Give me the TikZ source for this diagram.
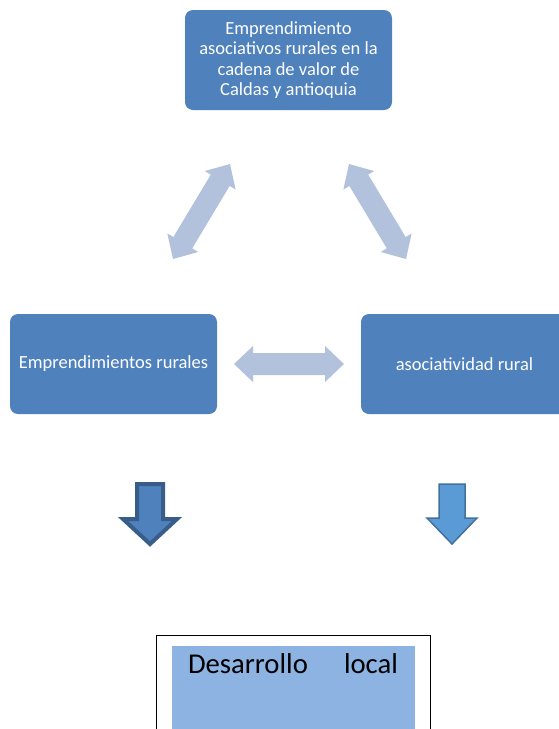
\documentclass[tikz,border=0pt]{standalone}
\usepackage{fontspec}
\setmainfont{Carlito}
\usetikzlibrary{calc}
\definecolor{boxblue}{HTML}{4F81BD}
\definecolor{pale}{HTML}{B2C2DD}
\definecolor{darkedge}{HTML}{385D8A}
\definecolor{midblue}{HTML}{5B9BD5}
\definecolor{midedge}{HTML}{41719C}
\definecolor{goalfill}{HTML}{8DB3E2}
\newcommand{\dblarr}[2]{%
  \fill[pale] (#1)
    -- ($(#1)!19pt!(#2)!18pt!90:(#2)$)
    -- ($(#1)!19pt!(#2)!11pt!90:(#2)$)
    -- ($(#2)!19pt!(#1)!11pt!-90:(#1)$)
    -- ($(#2)!19pt!(#1)!18pt!-90:(#1)$)
    -- (#2)
    -- ($(#2)!19pt!(#1)!18pt!90:(#1)$)
    -- ($(#2)!19pt!(#1)!11pt!90:(#1)$)
    -- ($(#1)!19pt!(#2)!11pt!-90:(#2)$)
    -- ($(#1)!19pt!(#2)!18pt!-90:(#2)$)
    -- cycle;}
\begin{document}
\begin{tikzpicture}[x=1pt,y=-1pt,
  box/.style={fill=boxblue, rounded corners=8pt, text=white, align=center,
    font=\fontsize{18.5}{20.5}\selectfont, inner sep=0pt,
    minimum width=207pt, minimum height=100pt},
  downdark/.style={fill=boxblue, draw=darkedge, line width=4pt, line join=miter},
  downmid/.style={fill=midblue, draw=midedge, line width=1.5pt, line join=miter}]
\useasboundingbox (0,0) rectangle (559,729);
\clip (0,0) rectangle (559,729);
\fill[white] (0,0) rectangle (559,729);

\node[box] (top) at (288.5,60) {Emprendimiento\\asociativos rurales en la\\cadena de valor de\\Caldas y antioquia};
\node[box] (left) at (113.5,364) {Emprendimientos rurales};
\node[box] (right) at (464.5,364) {asociatividad rural};

\coordinate (l1) at (173,259);
\coordinate (l2) at (230,164);
\coordinate (r1) at (349,164);
\coordinate (r2) at (406,259);
\coordinate (h1) at (234,364);
\coordinate (h2) at (344,364);
\dblarr{l1}{l2}
\dblarr{r1}{r2}
\dblarr{h1}{h2}

\draw[downdark] (137,484) -- (163,484) -- (163,519) -- (177,519) -- (150,544)
  -- (123,519) -- (137,519) -- cycle;
\draw[downmid] (439,484) -- (465,484) -- (465,518) -- (477,518) -- (452,544)
  -- (427,518) -- (439,518) -- cycle;

\draw[black, line width=1pt, fill=white] (156,635) rectangle (430,760);
\fill[goalfill] (172,646) rectangle (415,760);
\node[anchor=base, text width=210pt, inner sep=0pt,
  font=\fontsize{28.7}{34}\selectfont] (goal) at (293,673) {Desarrollo\hfill local};
\end{tikzpicture}
\end{document}
